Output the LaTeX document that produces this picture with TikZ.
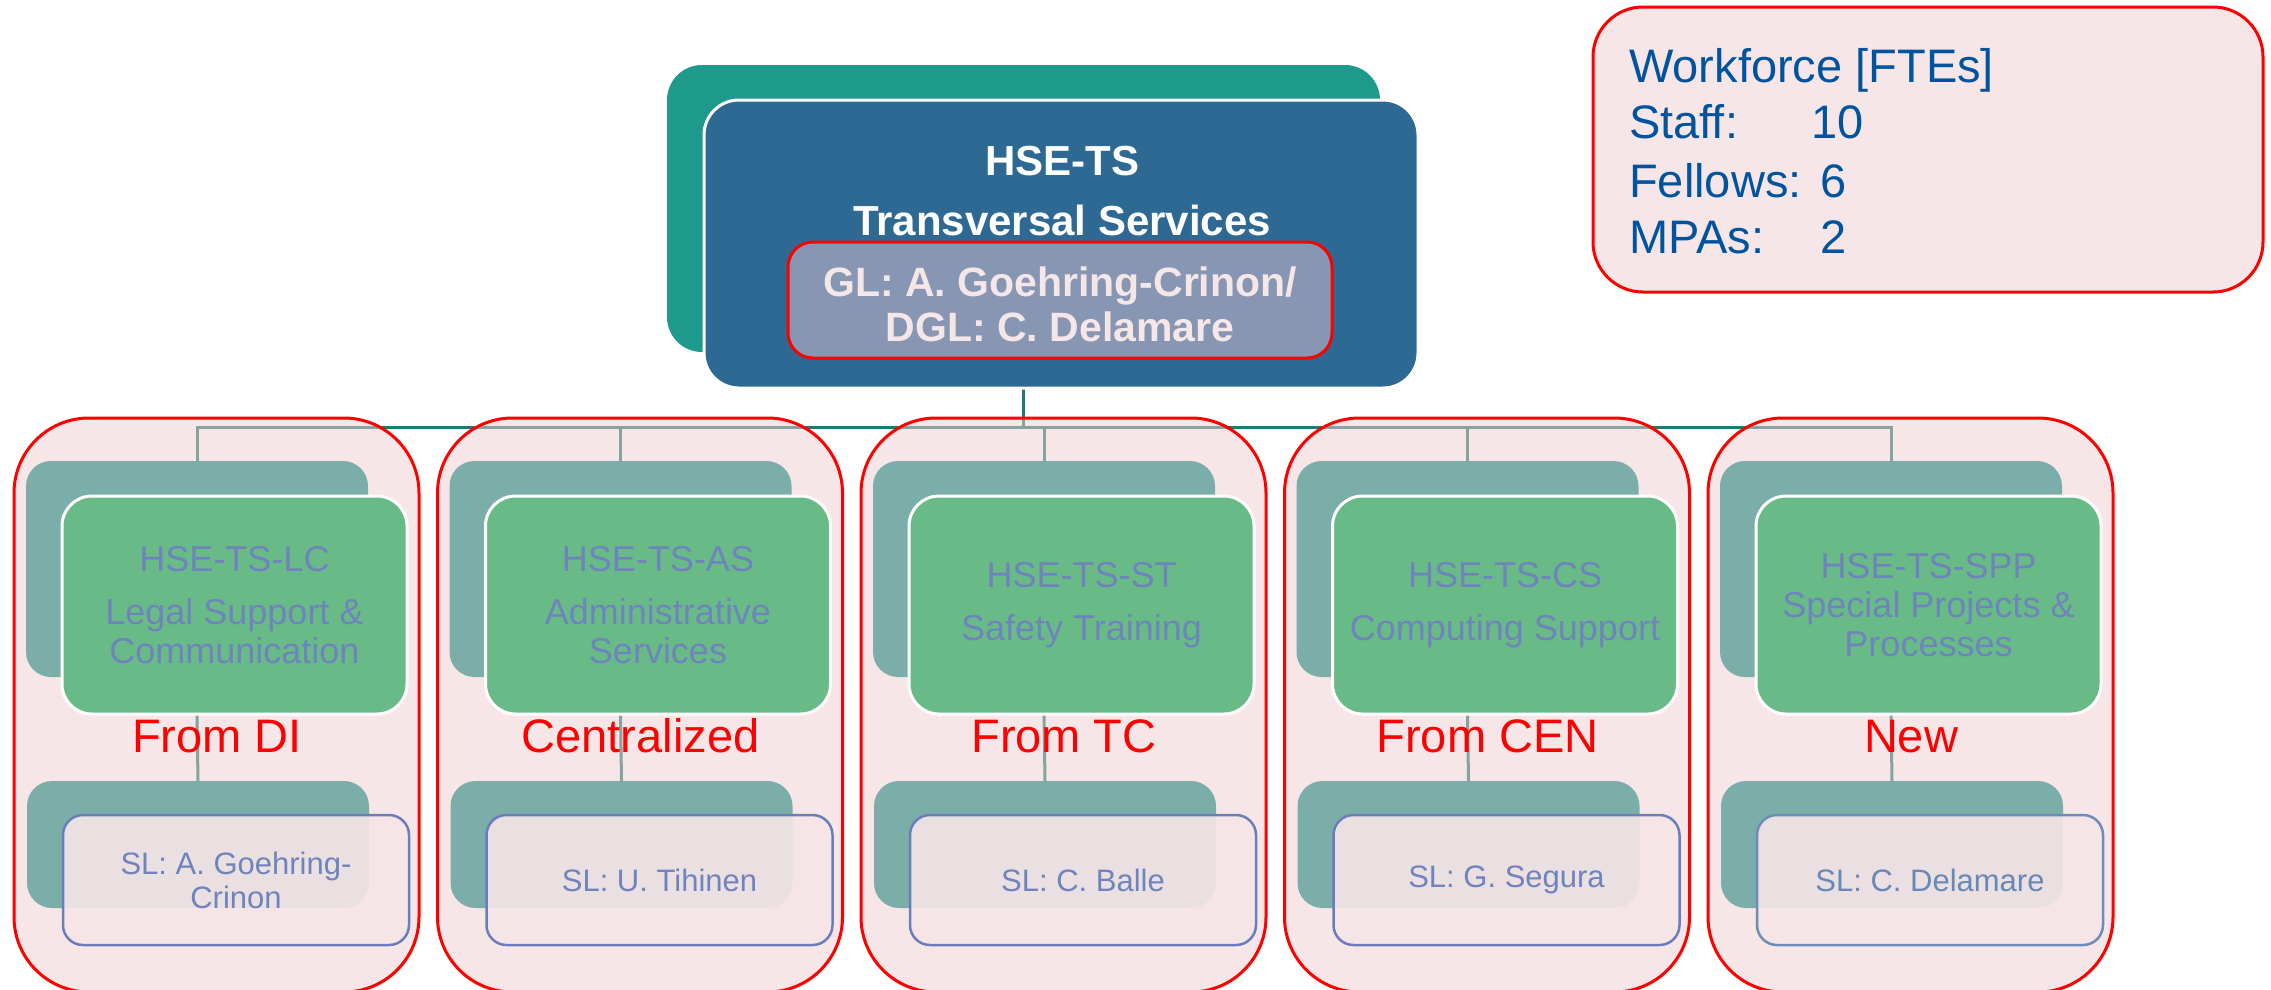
\documentclass[tikz,border=0pt]{standalone}
\usepackage{fontspec}
\setmainfont{Liberation Sans}
\definecolor{topteal}{RGB}{29,154,140}
\definecolor{hseblue}{RGB}{46,105,148}
\definecolor{glfill}{RGB}{135,150,178}
\definecolor{gltext}{RGB}{245,230,232}
\definecolor{pinkbg}{RGB}{247,230,232}
\definecolor{pinkdeep}{RGB}{239,205,209}
\definecolor{boxteal}{RGB}{123,174,168}
\definecolor{boxgreen}{RGB}{104,187,134}
\definecolor{unittext}{RGB}{111,132,189}
\definecolor{slstroke}{RGB}{107,125,186}
\definecolor{slstrokeb}{RGB}{108,140,186}
\definecolor{sltextb}{RGB}{104,136,184}
\definecolor{wftext}{RGB}{0,84,159}
\definecolor{connteal}{RGB}{31,122,112}
\pgfdeclarelayer{lines}
\pgfdeclarelayer{pinklayer}
\pgfsetlayers{lines,pinklayer,main}
\tikzset{
  box/.style={inner sep=0pt, outer sep=0pt, anchor=north west},
  groupbox/.style={box, fill=pinkdeep, fill opacity=0.5, draw=red, draw opacity=1, line width=3pt, rounded corners=75pt},
  backbox/.style={box, fill=boxteal, rounded corners=25pt},
  unitbox/.style={box, fill=boxgreen, draw=white, line width=3pt, rounded corners=30pt, text=unittext, align=center, font=\fontsize{36}{39}\selectfont},
  slbox/.style={box, fill=pinkbg, fill opacity=0.9, text opacity=1, draw=slstroke, draw opacity=1, line width=2.5pt, rounded corners=20pt, text=unittext, align=center, font=\fontsize{31}{34}\selectfont},
  slalt/.style={draw=slstrokeb, text=sltextb},
  fromlabel/.style={anchor=base, inner sep=0pt, text=red, font=\fontsize{47}{50}\selectfont},
  conn/.style={draw=connteal, line width=3pt},
  titletext/.style={anchor=base, inner sep=0pt, text=white, font=\bfseries\fontsize{42}{46}\selectfont},
  wfline/.style={anchor=base west, inner sep=0pt, text=wftext, font=\fontsize{47}{50}\selectfont}
}
\newcommand{\orggroup}[6]{%
  \begin{pgfonlayer}{pinklayer}
    \node[groupbox, minimum width=405pt, minimum height=574pt] (grp#1) at (#2,418) {};
  \end{pgfonlayer}
  \node[backbox, minimum width=342pt, minimum height=216pt] (back#1) at ({#2+12},461) {};
  \node[unitbox, minimum width=345pt, minimum height=218pt] (unit#1) at ({#2+48},496) {#3};
  \node[backbox, minimum width=342pt, minimum height=127pt] (sback#1) at ({#2+13},781) {};
  \node[slbox, #6, minimum width=346pt, minimum height=130pt] (sl#1) at ({#2+49},815) {#5};
  \node[fromlabel] (lab#1) at ({#2+203},752) {#4};
  \begin{pgfonlayer}{lines}
    \draw[conn] (bus) -| (back#1.north);
    \draw[conn] (unit#1.south -| back#1.north) -- (sback#1.north);
  \end{pgfonlayer}
}
\begin{document}
\begin{tikzpicture}[x=1pt,y=-1pt]
\useasboundingbox (0,0) rectangle (2271,989);
% top unit
\node[box, fill=topteal, rounded corners=35pt, minimum width=713pt, minimum height=287pt] (hseback) at (667,65) {};
\node[box, fill=hseblue, draw=white, line width=3pt, rounded corners=35pt, minimum width=714pt, minimum height=288pt] (hse) at (704,100) {};
\node[titletext] (hsename) at (1062,175) {HSE-TS};
\node[titletext] (hsetitle) at (1062,235) {Transversal Services};
\node[box, fill=glfill, draw=red, line width=3pt, rounded corners=25pt, minimum width=544pt, minimum height=116pt, text=gltext, font=\bfseries\fontsize{41}{45}\selectfont, align=center] (gl) at (788,242) {\rule{0pt}{38pt}GL: A. Goehring-Crinon/\\DGL: C. Delamare};
\coordinate (bus) at (1023,427);
\begin{pgfonlayer}{lines}
  \draw[conn] (hse.south -| bus) -- (bus);
\end{pgfonlayer}
% workforce
\node[box, fill=pinkbg, draw=red, line width=3pt, rounded corners=50pt, minimum width=670pt, minimum height=285pt] (wf) at (1593,7) {};
\node[wfline] (wf1) at (1629,82) {Workforce [FTEs]};
\node[wfline] (wf2) at (1629,138) {\makebox[182pt][l]{Staff:}10};
\node[wfline] (wf3) at (1629,197) {\makebox[191pt][l]{Fellows:}6};
\node[wfline] (wf4) at (1629,253) {\makebox[191pt][l]{MPAs:}2};
% groups
\orggroup{1}{14}{HSE-TS-LC\\[14pt]Legal Support \&\\Communication}{From DI}{SL: A. Goehring-\\Crinon}{}
\orggroup{2}{437.5}{HSE-TS-AS\\[14pt]Administrative\\Services}{Centralized}{SL: U. Tihinen}{}
\orggroup{3}{861}{HSE-TS-ST\\[14pt]Safety Training}{From TC}{SL: C. Balle}{}
\orggroup{4}{1284.5}{HSE-TS-CS\\[14pt]Computing Support}{From CEN}{SL: G. Segura}{}
\orggroup{5}{1708}{HSE-TS-SPP\\Special Projects \&\\Processes}{New}{SL: C. Delamare}{slalt}
\end{tikzpicture}
\end{document}
